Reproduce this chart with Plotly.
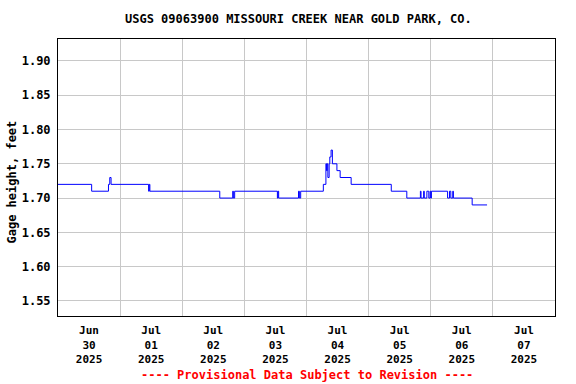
import plotly.graph_objects as go

# Change points of the gage-height record (time, value in feet)
times = [
    "2025-06-30 00:00", "2025-06-30 13:00", "2025-06-30 19:30", "2025-06-30 20:00",
    "2025-06-30 20:30", "2025-07-01 11:00", "2025-07-01 11:15", "2025-07-01 11:30",
    "2025-07-02 14:30", "2025-07-02 19:30", "2025-07-02 19:45", "2025-07-02 20:15",
    "2025-07-03 12:45", "2025-07-03 13:00", "2025-07-03 13:15", "2025-07-03 20:55",
    "2025-07-03 21:15", "2025-07-03 21:45", "2025-07-04 06:30", "2025-07-04 07:30",
    "2025-07-04 07:45", "2025-07-04 08:00", "2025-07-04 08:15", "2025-07-04 08:45",
    "2025-07-04 09:00", "2025-07-04 09:30", "2025-07-04 10:00", "2025-07-04 11:45",
    "2025-07-04 13:00", "2025-07-04 17:15", "2025-07-05 08:45", "2025-07-05 14:45",
    "2025-07-05 20:00", "2025-07-05 20:15", "2025-07-05 21:15", "2025-07-05 21:30",
    "2025-07-05 22:30", "2025-07-05 23:15", "2025-07-05 23:45", "2025-07-06 00:00",
    "2025-07-06 00:15", "2025-07-06 06:30", "2025-07-06 07:15", "2025-07-06 07:45",
    "2025-07-06 08:30", "2025-07-06 08:45", "2025-07-06 16:00", "2025-07-06 21:45",
]
gage_ft = [
    1.72, 1.71, 1.72, 1.73,
    1.72, 1.71, 1.72, 1.71,
    1.70, 1.71, 1.70, 1.71,
    1.70, 1.71, 1.70, 1.71,
    1.70, 1.71, 1.72, 1.75,
    1.74, 1.75, 1.73, 1.75,
    1.76, 1.77, 1.75, 1.74,
    1.73, 1.72, 1.71, 1.70,
    1.71, 1.70, 1.71, 1.70,
    1.71, 1.70, 1.71, 1.70,
    1.71, 1.70, 1.71, 1.70,
    1.71, 1.70, 1.69, 1.69,
]

tick_positions = ["2025-06-30 12:00", "2025-07-01 12:00", "2025-07-02 12:00", "2025-07-03 12:00",
                  "2025-07-04 12:00", "2025-07-05 12:00", "2025-07-06 12:00", "2025-07-07 12:00"]
tick_labels = ["Jun<br>30<br>2025", "Jul<br>01<br>2025", "Jul<br>02<br>2025", "Jul<br>03<br>2025",
               "Jul<br>04<br>2025", "Jul<br>05<br>2025", "Jul<br>06<br>2025", "Jul<br>07<br>2025"]
day_lines = ["2025-07-01", "2025-07-02", "2025-07-03", "2025-07-04",
             "2025-07-05", "2025-07-06", "2025-07-07"]
y_ticks = [1.55, 1.60, 1.65, 1.70, 1.75, 1.80, 1.85, 1.90]

FONT = "DejaVu Sans Mono"

fig = go.Figure()
fig.add_trace(go.Scatter(
    x=times, y=gage_ft, mode="lines", line=dict(color="#0000ff", width=1, shape="hv"),
    hoverinfo="skip", showlegend=False,
))

fig.update_layout(
    width=576, height=384,
    margin=dict(l=58, r=21, t=39, b=68, autoexpand=False),
    paper_bgcolor="white", plot_bgcolor="white",
    font=dict(family=FONT, size=12, color="black", weight="bold"),
    xaxis=dict(
        type="date", automargin=False,
        range=["2025-06-30 00:00", "2025-07-08 00:00"],
        tickmode="array", tickvals=tick_positions, ticktext=tick_labels,
        showgrid=False, ticks="outside", ticklen=4, tickcolor="rgba(0,0,0,0)", zeroline=False,
        showline=True, linecolor="black", linewidth=1, mirror=True,
        tickfont=dict(family=FONT, size=11, weight="bold"),
        minor=dict(tickmode="array", tickvals=day_lines,
                   showgrid=True, gridcolor="#c8c8c8", gridwidth=1, ticks=""),
    ),
    yaxis=dict(
        automargin=False,
        range=[1.528, 1.932],
        tickmode="array", tickvals=y_ticks, ticktext=[f"{v:.2f}" for v in y_ticks],
        showgrid=True, gridcolor="#c8c8c8", gridwidth=1,
        ticks="outside", ticklen=4, tickcolor="rgba(0,0,0,0)", zeroline=False,
        showline=True, linecolor="black", linewidth=1, mirror=True,
        tickfont=dict(family=FONT, size=12, weight="bold"),
    ),
    annotations=[
        dict(text="USGS 09063900 MISSOURI CREEK NEAR GOLD PARK, CO.", xref="paper", yref="paper",
             x=0.483, y=1.0, yshift=20, xanchor="center", yanchor="middle", showarrow=False,
             font=dict(family=FONT, size=12, color="black", weight="bold")),
        dict(text="Gage height, feet", xref="paper", yref="paper", textangle=-90,
             x=0, xshift=-47, y=0.5, yshift=-5, xanchor="center", yanchor="middle", showarrow=False,
             font=dict(family=FONT, size=12, color="black", weight="bold")),
        dict(text="---- Provisional Data Subject to Revision ----", xref="paper", yref="paper",
             x=0.5, y=0, yshift=-59, xanchor="center", yanchor="middle", showarrow=False,
             font=dict(family=FONT, size=12, color="red", weight="bold")),
    ],
)

# Remove the browser's default 8px body margin so the figure fills the window exactly.
fig.write_html("out.html", config={"displayModeBar": False, "staticPlot": True},
               post_script="document.body.style.margin='0px';")
